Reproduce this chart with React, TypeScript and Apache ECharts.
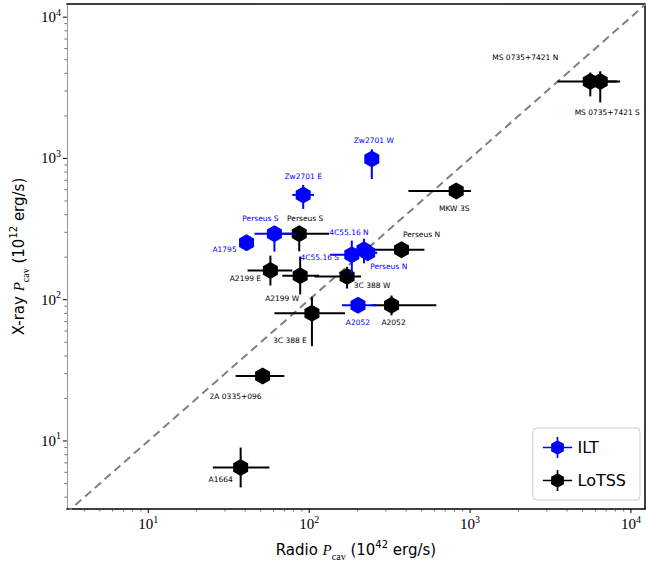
import React, { useEffect, useRef } from 'react';
import * as echarts from 'echarts';

// axis ranges (log)
const X_MIN = 3.12;
const X_MAX = 12220;
const Y_MIN = 3.3;
const Y_MAX = 12390;

// ILT points
const iltNames = ['Zw2701 W', 'Zw2701 E', 'Perseus S', 'A1795', '4C55.16 N', '4C55.16 S', 'Perseus N', 'A2052'];
const iltX = [245, 91.8, 60.8, 40.8, 219, 184, 231, 201];
const iltY = [990, 552, 293, 253, 226, 208, 215, 91.2];
const iltXLo = [222, 78.5, 45.7, 37, 190, 135, 200, 160];
const iltXHi = [270, 107, 81, 45, 255, 245, 265, 263];
const iltYLo = [714, 439, 219, 230, 181, 153, 195, 82];
const iltYHi = [1160, 649, 330, 280, 270, 262, 240, 100];

// LoTSS points
const lotssNames = ['MS 0735+7421 N', 'MS 0735+7421 S', 'MKW 3S', 'Perseus N', 'Perseus S', 'A2199 E', 'A2199 W', '3C 388 W', '3C 388 E', 'A2052', '2A 0335+096', 'A1664'];
const lotssX = [5585, 6440, 820, 375, 86.7, 57.4, 87.9, 172, 104, 325, 51.3, 37.5];
const lotssY = [3500, 3500, 589, 226, 293, 161, 148, 146, 80.1, 91.2, 28.8, 6.49];
const lotssXLo = [3490, 5000, 414, 219, 55.1, 41.4, 68.1, 108, 60.8, 245, 34.9, 25.2];
const lotssXHi = [8200, 8550, 1014, 520, 133, 78.5, 115, 210, 167, 617, 70.1, 56.6];
const lotssYLo = [2750, 2490, 540, 200, 220, 126, 109, 120, 46.9, 77.5, 25.3, 4.69];
const lotssYHi = [4055, 4140, 640, 255, 330, 205, 202, 171, 105, 107, 31.8, 8.98];

// tick values
const majorTicks = [1, 10, 100, 1000, 10000];
const minorMultipliers = [2, 3, 4, 5, 6, 7, 8, 9];

// label placement (layout only, px offsets from marker)
const iltLabelOffset = [[2, -19], [0, -18], [-14, -15], [-22, 7], [-15, -17], [-32, 3], [21, 14], [0, 17]];
const lotssLabelOffset = [[-65, -24], [7, 31], [-2, 18], [20, -15], [6, -15], [-25, 8], [-18, 23], [25, 9], [-22, 27], [2, 17], [-27, 20], [-20, 12]];

const BLUE = '#0000ff';
const BLACK = '#000000';
const HEX = 'path://M0,-1L0.866,-0.5L0.866,0.5L0,1L-0.866,0.5L-0.866,-0.5Z';
const LEGEND_ICON =
  'path://M0,9.2H28V10.8H0Z M13.2,0H14.8V20H13.2Z M14,3L20.06,6.5L20.06,13.5L14,17L7.94,13.5L7.94,6.5Z';

function buildTicks() {
  const out: number[][] = [];
  for (const m of majorTicks) {
    if (m >= X_MIN && m <= X_MAX) out.push([m, Y_MIN, 0]);
    if (m >= Y_MIN && m <= Y_MAX) out.push([X_MIN, m, 2]);
    for (const k of minorMultipliers) {
      const v = m * k;
      if (v >= X_MIN && v <= X_MAX) out.push([v, Y_MIN, 1]);
      if (v >= Y_MIN && v <= Y_MAX) out.push([X_MIN, v, 3]);
    }
  }
  return out;
}

function errData(xs: number[], ys: number[], xl: number[], xh: number[], yl: number[], yh: number[]) {
  return xs.map((x, i) => [x, ys[i], xl[i], xh[i], yl[i], yh[i]]);
}

function errSeries(name: string, data: number[][], color: string, z: number) {
  return {
    name,
    type: 'custom',
    z,
    clip: false,
    silent: true,
    encode: { x: 0, y: 1 },
    data,
    renderItem: (_p: any, api: any) => {
      const x = api.value(0);
      const y = api.value(1);
      const a = api.coord([api.value(2), y]);
      const b = api.coord([api.value(3), y]);
      const c = api.coord([x, api.value(4)]);
      const d = api.coord([x, api.value(5)]);
      return {
        type: 'group',
        children: [
          { type: 'line', shape: { x1: a[0], y1: a[1], x2: b[0], y2: b[1] }, style: { stroke: color, lineWidth: 2 } },
          { type: 'line', shape: { x1: c[0], y1: c[1], x2: d[0], y2: d[1] }, style: { stroke: color, lineWidth: 2 } },
        ],
      };
    },
  };
}

function pointSeries(name: string, names: string[], xs: number[], ys: number[], offs: number[][], color: string, z: number) {
  return {
    name,
    type: 'scatter',
    z,
    symbol: HEX,
    symbolSize: [15, 17],
    itemStyle: { color, opacity: 1 },
    label: {
      show: true,
      position: 'inside',
      formatter: '{b}',
      fontSize: 7.5,
      fontFamily: 'DejaVu Sans',
      color,
    },
    data: xs.map((x, i) => ({
      name: names[i],
      value: [x, ys[i]],
      label: { offset: offs[i] },
    })),
  };
}

const tickLabel = (v: number) => {
  const e = Math.log10(v);
  const r = Math.round(e);
  return Math.abs(e - r) < 1e-6 ? `{b|10}{s|${r}}` : '';
};

const tickRich = {
  b: { fontSize: 15, fontFamily: 'Liberation Serif', color: '#000', lineHeight: 20 },
  s: { fontSize: 10, fontFamily: 'Liberation Serif', color: '#000', lineHeight: 10, verticalAlign: 'top' },
};

const nameRich = {
  t: { fontSize: 15, fontFamily: 'DejaVu Sans', color: '#000', lineHeight: 22 },
  i: { fontSize: 15, fontFamily: 'Liberation Serif', fontStyle: 'italic', color: '#000', lineHeight: 22 },
  sub: { fontSize: 10, fontFamily: 'Liberation Serif', color: '#000', lineHeight: 14, verticalAlign: 'bottom' },
  sup: { fontSize: 10, fontFamily: 'DejaVu Sans', color: '#000', lineHeight: 10, verticalAlign: 'top' },
};

export default function App() {
  const ref = useRef<HTMLDivElement>(null);
  useEffect(() => {
    if (!ref.current) return;
    const chart = echarts.init(ref.current, undefined, { renderer: 'svg' });
    const option: any = {
      animation: false,
      backgroundColor: '#fff',
      grid: { left: 63, right: 1, top: 4, bottom: 58 },
      legend: {
        data: [
          { name: 'ILT', icon: LEGEND_ICON },
          { name: 'LoTSS', icon: LEGEND_ICON },
        ],
        orient: 'vertical',
        right: 6,
        bottom: 67,
        itemWidth: 30,
        itemHeight: 21,
        itemGap: 12,
        padding: [9, 14, 9, 10],
        borderColor: '#cccccc',
        borderWidth: 1,
        borderRadius: 4,
        backgroundColor: '#ffffff',
        textStyle: { fontSize: 16, fontFamily: 'DejaVu Sans', color: '#000' },
      },
      xAxis: [
        {
          type: 'log',
          min: X_MIN,
          max: X_MAX,
          position: 'bottom',
          axisLine: { show: true, lineStyle: { color: '#000', width: 1.5 } },
          axisTick: { show: false },
          splitLine: { show: false },
          minorTick: { show: false },
          axisLabel: {
            formatter: tickLabel,
            rich: tickRich,
            margin: 5,
            showMinLabel: false,
            showMaxLabel: false,
            hideOverlap: false,
          },
          name: '{t|Radio }{i|P}{sub|cav}{t| (10}{sup|42}{t| erg/s)}',
          nameLocation: 'middle',
          nameGap: 30,
          nameTextStyle: { rich: nameRich },
        },
        {
          type: 'log',
          min: X_MIN,
          max: X_MAX,
          position: 'top',
          axisLine: { show: true, lineStyle: { color: '#000', width: 1.5 } },
          axisTick: { show: false },
          axisLabel: { show: false },
          splitLine: { show: false },
        },
      ],
      yAxis: [
        {
          type: 'log',
          min: Y_MIN,
          max: Y_MAX,
          position: 'left',
          axisLine: { show: true, lineStyle: { color: '#999', width: 1 } },
          axisTick: { show: false },
          splitLine: { show: false },
          axisLabel: {
            formatter: tickLabel,
            rich: tickRich,
            margin: 6,
            showMinLabel: false,
            showMaxLabel: false,
          },
          name: '{t|X-ray }{i|P}{sub|cav}{t| (10}{sup|12}{t| erg/s)}',
          nameLocation: 'middle',
          nameGap: 31,
          nameRotate: 90,
          nameTextStyle: { rich: nameRich },
        },
        {
          type: 'log',
          min: Y_MIN,
          max: Y_MAX,
          position: 'right',
          axisLine: { show: true, lineStyle: { color: '#000', width: 1.5 } },
          axisTick: { show: false },
          axisLabel: { show: false },
          splitLine: { show: false },
        },
      ],
      series: [
        {
          name: 'one-to-one',
          type: 'line',
          silent: true,
          clip: true,
          symbol: 'none',
          z: 1,
          lineStyle: { color: '#808080', width: 2, type: [8, 5] },
          data: [[1, 1], [100000, 100000]],
        },
        {
          name: 'ticks',
          type: 'custom',
          clip: false,
          silent: true,
          z: 10,
          encode: { x: 0, y: 1 },
          data: buildTicks(),
          renderItem: (_p: any, api: any) => {
            const pt = api.coord([api.value(0), api.value(1)]);
            const kind = api.value(2);
            const len = kind === 0 || kind === 2 ? 4 : 2.5;
            const col = kind === 0 || kind === 2 ? '#000' : '#444';
            const w = kind === 0 || kind === 2 ? 1 : 0.8;
            if (kind < 2) {
              return { type: 'line', shape: { x1: pt[0], y1: pt[1], x2: pt[0], y2: pt[1] + len }, style: { stroke: col, lineWidth: w } };
            }
            return { type: 'line', shape: { x1: pt[0] - len, y1: pt[1], x2: pt[0], y2: pt[1] }, style: { stroke: col, lineWidth: w } };
          },
        },
        errSeries('LoTSS err', errData(lotssX, lotssY, lotssXLo, lotssXHi, lotssYLo, lotssYHi), BLACK, 2),
        pointSeries('LoTSS', lotssNames, lotssX, lotssY, lotssLabelOffset, BLACK, 3),
        errSeries('ILT err', errData(iltX, iltY, iltXLo, iltXHi, iltYLo, iltYHi), BLUE, 4),
        pointSeries('ILT', iltNames, iltX, iltY, iltLabelOffset, BLUE, 5),
      ],
    };
    chart.setOption(option);
    return () => chart.dispose();
  }, []);
  return (
    <div
      ref={ref}
      style={{ position: 'fixed', left: 0, top: 0, width: 646, height: 567 }}
    />
  );
}
